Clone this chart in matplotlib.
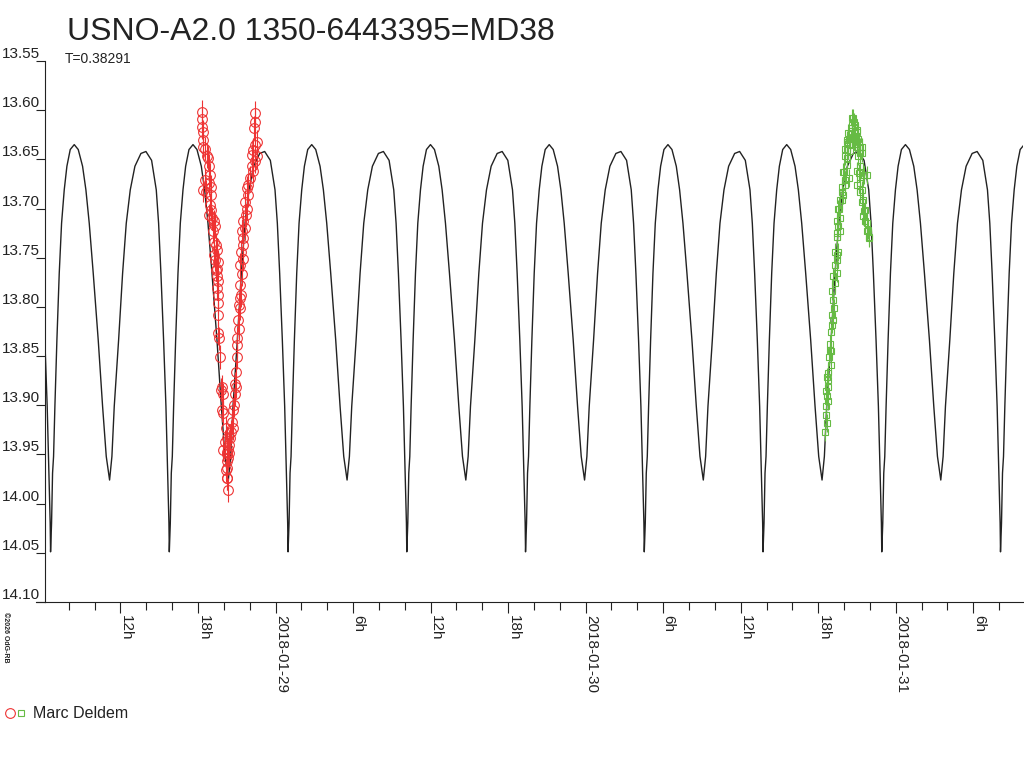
# Curva de luz de USNO-A2.0 1350-6443395 (MD38)
# modelo periodico + observaciones de Marc Deldem

# Para calculos numericos
import numpy as np

# Para crear graficas
import matplotlib
matplotlib.use("Agg")
import matplotlib.pyplot as plt
import matplotlib.dates as mdates
import matplotlib.transforms as mtransforms
from matplotlib.lines import Line2D
from matplotlib.ticker import FuncFormatter

plt.rcParams["font.family"] = ["Liberation Sans", "DejaVu Sans"]

# textos
Titulo = "USNO-A2.0 1350-6443395=MD38"
Subtitulo = "T=0.38291"
Observador = "Marc Deldem"
Copyright = "\u00a92026 OdG-RB"

# periodo (dias) y minimo principal de referencia (horas desde 2018-01-28 00h)
Periodo_dias = 0.38291
Epoca_minimo = 24.97

# forma de un ciclo (fase, magnitud)
Fase_plantilla = [0.0, 0.0084, 0.0168, 0.0253, 0.0365, 0.0533, 0.0730, 0.0927,
                  0.1152, 0.1376, 0.1657, 0.1994, 0.2331, 0.2696, 0.2976, 0.3258,
                  0.3595, 0.4016, 0.4381, 0.4690, 0.4971, 0.5167, 0.5364, 0.5729,
                  0.6066, 0.6375, 0.6712, 0.7104, 0.7610, 0.8031, 0.8509, 0.8902,
                  0.9099, 0.9295, 0.9520, 0.9716, 0.9857, 0.9969]
Mag_plantilla = [14.049, 14.020, 13.969, 13.952, 13.901, 13.834, 13.766, 13.715,
                 13.681, 13.657, 13.640, 13.635, 13.640, 13.657, 13.681, 13.715,
                 13.766, 13.834, 13.901, 13.952, 13.976, 13.952, 13.901, 13.834,
                 13.766, 13.715, 13.681, 13.657, 13.644, 13.642, 13.651, 13.681,
                 13.715, 13.766, 13.834, 13.901, 13.969, 14.020]

# observaciones del 2018-01-28 (hora UT, magnitud)
Hora_rojo = [18.29, 18.29, 18.31, 18.41, 18.37, 18.41, 18.54, 18.68, 18.80, 18.88,
             18.93, 18.54, 18.88, 18.98, 18.41, 18.62, 18.98, 18.93, 18.98, 18.88,
             19.06, 19.24, 19.32, 19.19, 19.24, 19.39, 19.45, 19.24, 19.34, 19.57,
             19.50, 19.39, 19.45, 19.57, 19.45, 19.55, 19.57, 19.57, 19.57, 19.65,
             19.70, 19.84, 19.76, 19.96, 19.88, 19.96, 20.17, 20.22, 20.09, 19.96,
             20.27, 20.22, 20.17, 20.22, 20.35,
             20.27, 20.22, 20.27, 20.35, 20.42, 20.35, 20.42, 20.48, 20.53, 20.73,
             20.61, 20.73, 20.79, 20.87, 20.94, 20.87, 20.94, 21.00, 21.00, 21.00,
             21.20, 21.12, 21.25, 21.20, 21.25, 21.31, 21.25, 21.38, 21.25, 21.51,
             21.31, 21.46, 21.51, 21.38, 21.64, 21.51, 21.72, 21.77, 21.64, 21.89,
             21.77, 21.89, 22.03, 22.28, 22.16, 22.41, 22.54, 22.16, 22.28, 22.41,
             22.54, 22.34, 22.41, 22.41]
Mag_rojo = [13.602, 13.609, 13.617, 13.622, 13.630, 13.637, 13.639, 13.647, 13.649, 13.657,
            13.666, 13.671, 13.674, 13.678, 13.681, 13.683, 13.686, 13.696, 13.701, 13.707,
            13.710, 13.713, 13.718, 13.723, 13.734, 13.737, 13.742, 13.747, 13.752, 13.754,
            13.761, 13.762, 13.769, 13.774, 13.781, 13.788, 13.796, 13.808, 13.827, 13.832,
            13.851, 13.881, 13.884, 13.889, 13.905, 13.908, 13.923, 13.933, 13.937, 13.945,
            13.947, 13.950, 13.966, 13.974, 13.986,
            13.974, 13.964, 13.957, 13.954, 13.949, 13.944, 13.940, 13.933, 13.927, 13.923,
            13.917, 13.905, 13.900, 13.889, 13.881, 13.878, 13.866, 13.851, 13.839, 13.832,
            13.822, 13.813, 13.801, 13.798, 13.791, 13.788, 13.778, 13.767, 13.757, 13.751,
            13.744, 13.737, 13.730, 13.723, 13.720, 13.713, 13.707, 13.700, 13.693, 13.686,
            13.679, 13.676, 13.669, 13.662, 13.657, 13.652, 13.647, 13.646, 13.640, 13.635,
            13.632, 13.618, 13.612, 13.603]
Error_rojo = 0.012

# observaciones del 2018-01-30 (hora UT, magnitud)
Hora_verde = [18.53, 18.60, 18.66, 18.78, 18.66, 18.78, 18.97, 18.97, 18.92, 19.05,
              19.12, 19.05, 19.22, 19.17, 19.12, 19.43, 19.30, 19.48, 19.43, 19.56,
              19.30, 19.43, 19.56, 19.69, 19.56, 19.82, 19.95, 19.82, 20.08, 19.95,
              20.21, 20.08, 20.26, 20.21, 20.33, 20.59, 20.67, 20.46, 20.72, 20.85,
              20.85, 20.98, 21.11, 20.98, 21.24, 21.11, 21.37, 21.24, 20.98, 21.49,
              21.75, 21.24, 21.37, 21.49, 21.62, 21.49, 21.75, 21.88, 21.96,
              20.62, 20.75, 20.87, 20.62, 21.00, 20.75, 20.36, 21.14, 20.87, 20.23,
              20.10, 20.49, 21.26, 21.39, 20.23, 19.97, 20.36, 21.14, 21.52, 21.00,
              21.26, 20.10, 19.84, 19.71, 19.59, 21.39, 21.52, 21.65, 19.46, 19.71,
              19.46, 21.78, 21.91,
              18.84, 18.92, 19.01, 18.72, 18.60, 18.72, 18.60, 18.66, 19.08, 19.27]
Mag_verde = [13.927, 13.901, 13.891, 13.881, 13.871, 13.867, 13.859, 13.845, 13.844, 13.818,
             13.813, 13.808, 13.801, 13.793, 13.769, 13.766, 13.757, 13.752, 13.747, 13.744,
             13.744, 13.725, 13.718, 13.710, 13.700, 13.691, 13.686, 13.678, 13.671, 13.663,
             13.656, 13.647, 13.640, 13.630, 13.623, 13.615, 13.608, 13.634, 13.627, 13.617,
             13.634, 13.620, 13.629, 13.637, 13.637, 13.647, 13.644, 13.657, 13.662, 13.666,
             13.666, 13.674, 13.681, 13.691, 13.701, 13.708, 13.715, 13.722, 13.729,
             13.608, 13.612, 13.615, 13.618, 13.622, 13.627, 13.629, 13.632, 13.634, 13.632,
             13.639, 13.642, 13.644, 13.637, 13.649, 13.663, 13.669, 13.664, 13.666, 13.676,
             13.683, 13.676, 13.683, 13.691, 13.700, 13.693, 13.703, 13.713, 13.713, 13.723,
             13.729, 13.723, 13.730,
             13.851, 13.838, 13.826, 13.874, 13.885, 13.896, 13.910, 13.918, 13.784, 13.776]
Error_verde = 0.009

# eje de magnitudes
Ticks_mag = [13.55, 13.60, 13.65, 13.70, 13.75, 13.80, 13.85, 13.90, 13.95, 14.00, 14.05, 14.10]

# colores
Color_texto = "#222222"
Color_rojo = "#ee3333"
Color_verde = "#66bb44"

# tiempos como fechas
Base = np.datetime64("2018-01-28T00:00")


def A_fecha(Horas, Dia=0):
    # horas (float) -> datetime64
    Segundos = np.round((np.asarray(Horas) + 24 * Dia) * 3600).astype("int64")
    return Base + Segundos.astype("timedelta64[s]")


# construir curva modelo repitiendo el ciclo leido
Periodo_horas = Periodo_dias * 24
Tiempos_modelo = []
Mags_modelo = []
for k in range(-3, 8):
    for f, m in zip(Fase_plantilla, Mag_plantilla):
        Tiempos_modelo.append(Epoca_minimo + (k + f) * Periodo_horas)
        Mags_modelo.append(m)
Tiempos_modelo.append(Epoca_minimo + 8 * Periodo_horas)
Mags_modelo.append(Mag_plantilla[0])

# crear figura
fig = plt.figure(figsize=(10.24, 7.68), dpi=100)
ax = fig.add_axes([45 / 1024, 1 - 602 / 768, 978 / 1024, 541 / 768])

# curva modelo
ax.plot(A_fecha(Tiempos_modelo), Mags_modelo, color=Color_texto, lw=1.0, zorder=2)

# observaciones
ax.errorbar(A_fecha(Hora_rojo), Mag_rojo, yerr=Error_rojo, fmt="o",
            ms=7, mfc="none", mec=Color_rojo, mew=0.8,
            ecolor=Color_rojo, elinewidth=0.8, capsize=0, zorder=3)
ax.errorbar(A_fecha(Hora_verde, 2), Mag_verde, yerr=Error_verde, fmt="s",
            ms=5, mfc="none", mec=Color_verde, mew=0.8,
            ecolor=Color_verde, elinewidth=0.8, capsize=0, zorder=3)

# limites
ax.set_xlim(A_fecha(6.16), A_fecha(81.85))
ax.set_ylim(14.10, 13.55)

# eje y: ticks hacia fuera y etiquetas encima de cada tick
ax.set_yticks(Ticks_mag)
ax.set_yticklabels([])
ax.tick_params(axis="y", direction="out", length=6.5, width=0.8, color=Color_texto)
for v in Ticks_mag:
    ax.text(-5 / 978, v, f"{v:.2f}", transform=ax.get_yaxis_transform(),
            ha="right", va="bottom", fontsize=11, color=Color_texto)

# eje x: cada 6h etiqueta, cada 2h tick menor
ax.xaxis.set_major_locator(mdates.HourLocator(byhour=[0, 6, 12, 18]))
ax.xaxis.set_minor_locator(mdates.HourLocator(byhour=range(0, 24, 2)))


def Formato_hora(x, pos):
    d = mdates.num2date(x)
    if d.hour == 0:
        return d.strftime("%Y-%m-%d")
    return f"{d.hour}h"


ax.xaxis.set_major_formatter(FuncFormatter(Formato_hora))
ax.tick_params(axis="x", which="major", direction="out", length=8, width=0.8,
               color=Color_texto, labelsize=11, labelcolor=Color_texto, pad=1.5)
ax.tick_params(axis="x", which="minor", direction="out", length=6, width=0.8,
               color=Color_texto)
Desplazamiento = mtransforms.ScaledTranslation(-1.5 / 100, 0, fig.dpi_scale_trans)
for t in ax.get_xticklabels():
    t.set_rotation(-90)
    t.set_ha("left")
    t.set_va("top")
    t.set_transform(t.get_transform() + Desplazamiento)

# bordes
ax.spines["top"].set_visible(False)
ax.spines["right"].set_visible(False)
ax.spines["left"].set_color(Color_texto)
ax.spines["bottom"].set_color(Color_texto)
ax.spines["left"].set_linewidth(0.8)
ax.spines["bottom"].set_linewidth(0.8)
ax.add_line(Line2D([-9 / 978, 0], [0, 0], transform=ax.transAxes, color=Color_texto,
                   lw=0.8, clip_on=False))

# titulos
fig.text(67 / 1024, 1 - 40 / 768, Titulo, fontsize=23, color=Color_texto, va="baseline")
fig.text(65 / 1024, 1 - 63 / 768, Subtitulo, fontsize=10, color=Color_texto, va="baseline")

# copyright
fig.text(5 / 1024, 1 - 612 / 768, Copyright, fontsize=5, rotation=-90,
         ha="center", va="top", color=Color_texto, fontweight="bold")

# leyenda
fig.add_artist(Line2D([10 / 1024], [1 - 713 / 768], marker="o", ms=7, mfc="none",
                      mec=Color_rojo, mew=0.8, ls="none", transform=fig.transFigure))
fig.add_artist(Line2D([21 / 1024], [1 - 713 / 768], marker="s", ms=5, mfc="none",
                      mec=Color_verde, mew=0.8, ls="none", transform=fig.transFigure))
fig.text(33 / 1024, 1 - 713 / 768, Observador, fontsize=11.5, color=Color_texto,
         va="center")

# guardar grafica
fig.savefig("out.png", dpi=100)
